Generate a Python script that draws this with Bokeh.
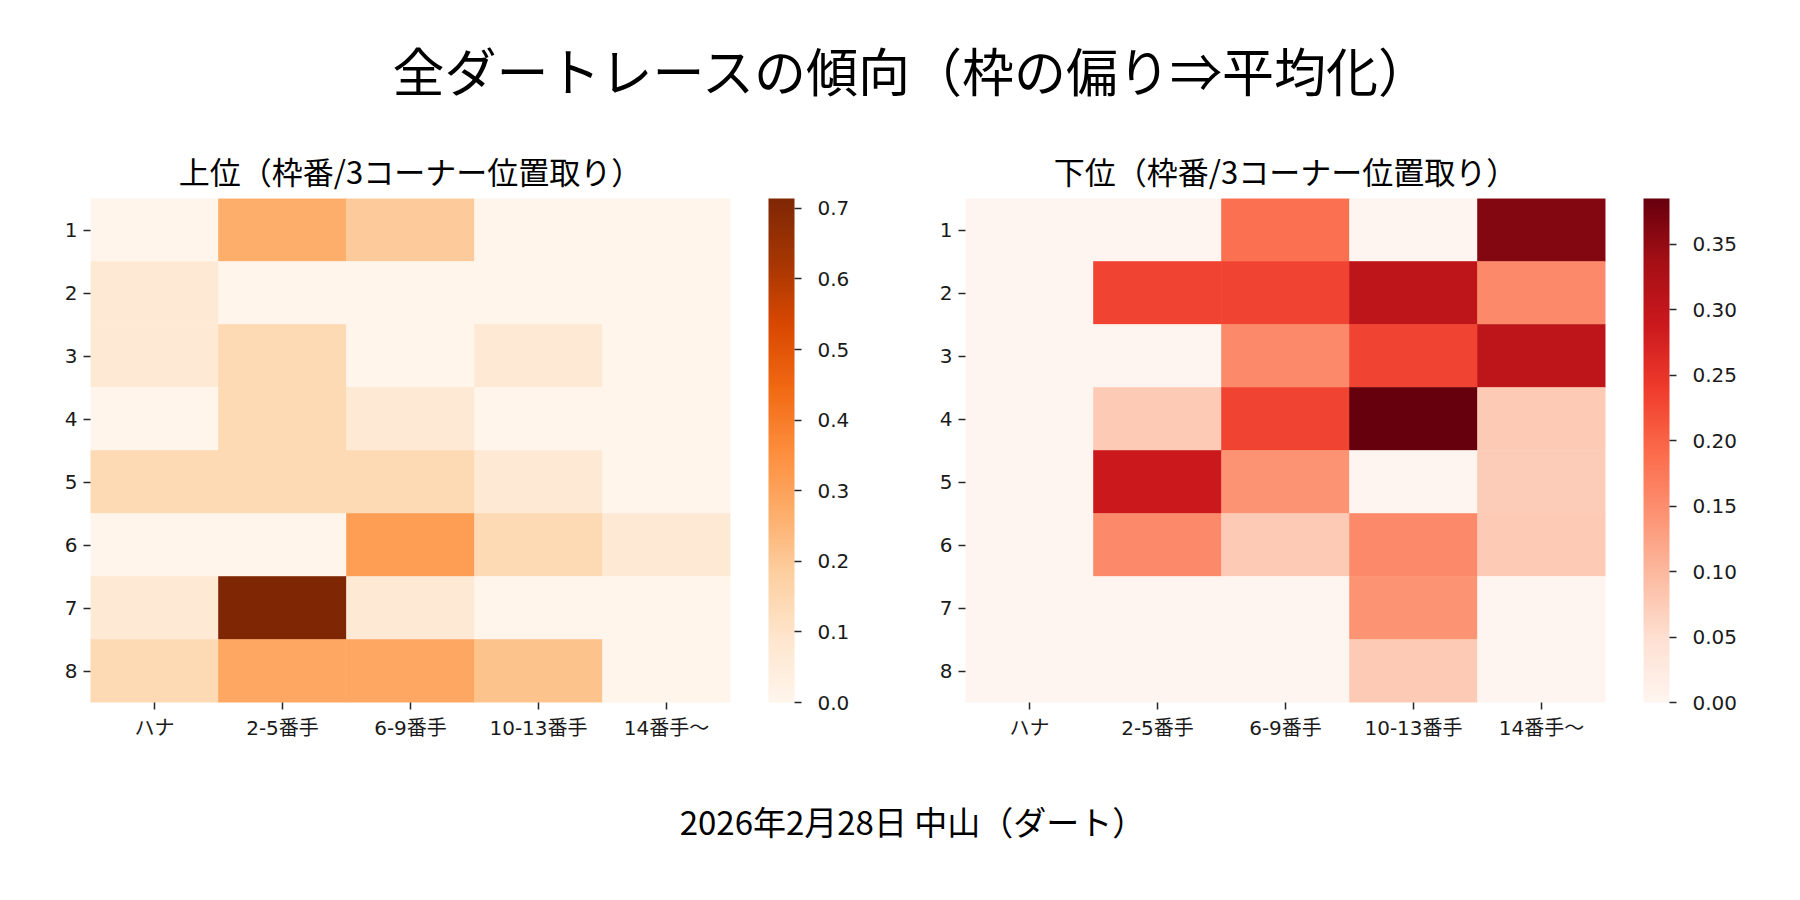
import numpy as np
from bokeh.plotting import figure
from bokeh.models import (ColumnDataSource, LinearColorMapper, ColorBar, FixedTicker,
                          PrintfTickFormatter)
from bokeh.layouts import column, row
from bokeh.embed import file_html
from bokeh.resources import INLINE

# ---------------- data ----------------
positions = ["ハナ", "2-5番手", "6-9番手", "10-13番手", "14番手〜"]
gates = ["1", "2", "3", "4", "5", "6", "7", "8"]

# 上位 (rows = gate 1..8, cols = positions)
top_values = [
    [0.000, 0.270, 0.190, 0.000, 0.000],
    [0.071, 0.000, 0.000, 0.000, 0.000],
    [0.071, 0.143, 0.000, 0.071, 0.000],
    [0.000, 0.143, 0.071, 0.000, 0.000],
    [0.143, 0.143, 0.143, 0.071, 0.000],
    [0.000, 0.000, 0.310, 0.143, 0.071],
    [0.071, 0.714, 0.071, 0.000, 0.000],
    [0.143, 0.286, 0.286, 0.214, 0.000],
]
# 下位
bottom_values = [
    [0.000, 0.000, 0.185, 0.000, 0.363],
    [0.000, 0.232, 0.232, 0.306, 0.154],
    [0.000, 0.000, 0.154, 0.232, 0.306],
    [0.000, 0.077, 0.232, 0.385, 0.077],
    [0.000, 0.288, 0.143, 0.000, 0.075],
    [0.000, 0.154, 0.077, 0.154, 0.077],
    [0.000, 0.000, 0.000, 0.143, 0.000],
    [0.000, 0.000, 0.000, 0.077, 0.000],
]
top_ticks = [0.0, 0.1, 0.2, 0.3, 0.4, 0.5, 0.6, 0.7]
bottom_ticks = [0.0, 0.05, 0.10, 0.15, 0.20, 0.25, 0.30, 0.35]

main_title = "全ダートレースの傾向（枠の偏り⇒平均化）"
top_title = "上位（枠番/3コーナー位置取り）"
bottom_title = "下位（枠番/3コーナー位置取り）"
footer_text = "2026年2月28日 中山（ダート）"

ORANGES = ["#fff5eb", "#fee6ce", "#fdd0a2", "#fdae6b", "#fd8d3c",
           "#f16913", "#d94801", "#a63603", "#7f2704"]
REDS = ["#fff5f0", "#fee0d2", "#fcbba1", "#fc9272", "#fb6a4a",
        "#ef3b2c", "#cb181d", "#a50f15", "#67000d"]

TXT_FONT = "DejaVu Sans, Noto Sans CJK JP"
TITLE_FONT = "Noto Sans CJK JP"
TXT_COLOR = "#1a1a1a"


def make_palette(hexes, n=256):
    rgb = np.array([[int(h[i:i + 2], 16) for i in (1, 3, 5)] for h in hexes], float)
    xs = np.linspace(0, 1, len(hexes))
    t = np.linspace(0, 1, n)
    cols = np.stack([np.interp(t, xs, rgb[:, k]) for k in range(3)], axis=1)
    return ["#%02x%02x%02x" % tuple(int(round(c)) for c in c3) for c3 in cols]


def heatmap(values, title, pal_hex, ticks, fmt, width, border_left, border_right):
    xs, ys, vs = [], [], []
    for gi, g in enumerate(gates):
        for pi, pos in enumerate(positions):
            xs.append(pos)
            ys.append(g)
            vs.append(values[gi][pi])
    src = ColumnDataSource(dict(x=xs, y=ys, v=vs))
    vmax = max(vs)
    mapper = LinearColorMapper(palette=make_palette(pal_hex), low=0, high=vmax)

    p = figure(width=width, height=630, x_range=positions, y_range=list(reversed(gates)),
               toolbar_location=None, output_backend="svg",
               min_border_left=border_left, min_border_right=border_right,
               min_border_top=68, min_border_bottom=58)
    p.rect(x="x", y="y", width=1, height=1, source=src,
           fill_color={"field": "v", "transform": mapper},
           line_color={"field": "v", "transform": mapper}, line_width=0.6)

    p.title.text = title
    p.title.align = "center"
    p.title.text_font = TITLE_FONT
    p.title.text_font_size = "31px"
    p.title.text_font_style = "normal"
    p.title.text_color = "black"
    p.title.standoff = 11

    for ax in (p.xaxis[0], p.yaxis[0]):
        ax.axis_line_color = None
        ax.major_tick_in = 0
        ax.major_tick_out = 7
        ax.major_tick_line_color = "#262626"
        ax.major_tick_line_width = 1.5
        ax.minor_tick_line_color = None
        ax.major_label_text_font = TXT_FONT
        ax.major_label_text_font_size = "20px"
        ax.major_label_text_color = TXT_COLOR
        ax.major_label_standoff = 6
    p.grid.visible = False
    p.outline_line_color = None

    cb = ColorBar(color_mapper=mapper, width=26, height=504,
                  ticker=FixedTicker(ticks=ticks),
                  formatter=PrintfTickFormatter(format=fmt),
                  major_label_text_font=TXT_FONT,
                  major_label_text_font_size="20px",
                  major_label_text_color=TXT_COLOR,
                  major_tick_in=0, major_tick_out=7,
                  major_tick_line_color="#262626", major_tick_line_width=1.5,
                  bar_line_color=None, border_line_color=None,
                  background_fill_color=None,
                  label_standoff=16, padding=0, margin=0, location=(38, 0))
    p.add_layout(cb, "right")
    return p


def text_panel(text, size, height, top, left):
    p = figure(width=1784, height=height, toolbar_location=None, output_backend="svg",
               x_axis_location=None, y_axis_location=None,
               min_border_top=top, min_border_bottom=0, min_border_left=left,
               min_border_right=0)
    p.grid.visible = False
    p.outline_line_color = None
    p.title.text = text
    p.title.align = "center"
    p.title.text_font = TITLE_FONT
    p.title.text_font_size = size
    p.title.text_font_style = "normal"
    p.title.text_color = "black"
    p.title.standoff = 0
    return p


header = text_panel(main_title, "52px", 130, 106, 40)
p1 = heatmap(top_values, top_title, ORANGES, top_ticks, "%.1f", 860, 90, 130)
p2 = heatmap(bottom_values, bottom_title, REDS, bottom_ticks, "%.2f", 924, 105, 179)
footer = text_panel(footer_text, "33px", 124, 84, 14)

layout = column(header, row(p1, p2), footer)
open("out.html", "w").write(file_html(layout, INLINE))
